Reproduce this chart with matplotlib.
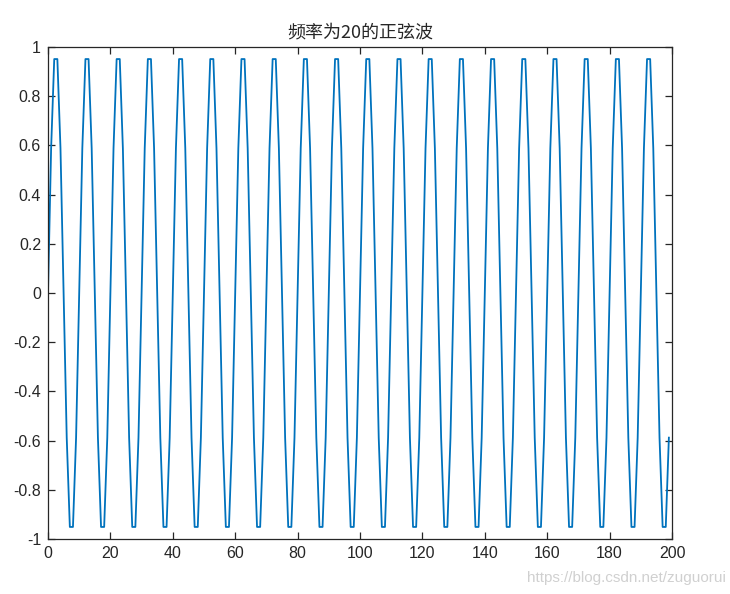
import matplotlib
matplotlib.use("Agg")
import matplotlib.pyplot as plt

sample_index = list(range(200))
amplitude = [
    0, 0.588, 0.951, 0.951, 0.588, 0, -0.588, -0.951, -0.951, -0.588,
    0, 0.588, 0.951, 0.951, 0.588, 0, -0.588, -0.951, -0.951, -0.588,
    0, 0.588, 0.951, 0.951, 0.588, 0, -0.588, -0.951, -0.951, -0.588,
    0, 0.588, 0.951, 0.951, 0.588, 0, -0.588, -0.951, -0.951, -0.588,
    0, 0.588, 0.951, 0.951, 0.588, 0, -0.588, -0.951, -0.951, -0.588,
    0, 0.588, 0.951, 0.951, 0.588, 0, -0.588, -0.951, -0.951, -0.588,
    0, 0.588, 0.951, 0.951, 0.588, 0, -0.588, -0.951, -0.951, -0.588,
    0, 0.588, 0.951, 0.951, 0.588, 0, -0.588, -0.951, -0.951, -0.588,
    0, 0.588, 0.951, 0.951, 0.588, 0, -0.588, -0.951, -0.951, -0.588,
    0, 0.588, 0.951, 0.951, 0.588, 0, -0.588, -0.951, -0.951, -0.588,
    0, 0.588, 0.951, 0.951, 0.588, 0, -0.588, -0.951, -0.951, -0.588,
    0, 0.588, 0.951, 0.951, 0.588, 0, -0.588, -0.951, -0.951, -0.588,
    0, 0.588, 0.951, 0.951, 0.588, 0, -0.588, -0.951, -0.951, -0.588,
    0, 0.588, 0.951, 0.951, 0.588, 0, -0.588, -0.951, -0.951, -0.588,
    0, 0.588, 0.951, 0.951, 0.588, 0, -0.588, -0.951, -0.951, -0.588,
    0, 0.588, 0.951, 0.951, 0.588, 0, -0.588, -0.951, -0.951, -0.588,
    0, 0.588, 0.951, 0.951, 0.588, 0, -0.588, -0.951, -0.951, -0.588,
    0, 0.588, 0.951, 0.951, 0.588, 0, -0.588, -0.951, -0.951, -0.588,
    0, 0.588, 0.951, 0.951, 0.588, 0, -0.588, -0.951, -0.951, -0.588,
    0, 0.588, 0.951, 0.951, 0.588, 0, -0.588, -0.951, -0.951, -0.588,
]
x_ticks = [0, 20, 40, 60, 80, 100, 120, 140, 160, 180, 200]
x_labels = ["0", "20", "40", "60", "80", "100", "120", "140", "160", "180", "200"]
y_ticks = [-1, -0.8, -0.6, -0.4, -0.2, 0, 0.2, 0.4, 0.6, 0.8, 1]
y_labels = ["-1", "-0.8", "-0.6", "-0.4", "-0.2", "0", "0.2", "0.4", "0.6", "0.8", "1"]
title_text = "频率为20的正弦波"
watermark = "https://blog.csdn.net/zuguorui"

plt.rcParams['font.family'] = ['Liberation Sans', 'Noto Sans CJK SC', 'DejaVu Sans']
dark = "#262626"

fig = plt.figure(figsize=(7.30, 5.94), dpi=100)
ax = fig.add_axes([48 / 730, 55 / 594, 624 / 730, 492 / 594])
ax.plot(sample_index, amplitude, color="#0072BD", linewidth=1.3)
ax.set_xlim(0, 200)
ax.set_ylim(-1, 1)
ax.set_xticks(x_ticks)
ax.set_xticklabels(x_labels)
ax.set_yticks(y_ticks)
ax.set_yticklabels(y_labels)
ax.tick_params(direction="in", top=True, right=True, length=5, width=0.9,
               color=dark, labelcolor=dark, labelsize=11.5, pad=5)
for s in ax.spines.values():
    s.set_color(dark)
    s.set_linewidth(0.9)
ax.set_title(title_text, fontsize=13, color=dark, pad=7,
             family=['Noto Sans CJK SC', 'DejaVu Sans'])
fig.text(0.995, 0.015, watermark, ha="right", va="bottom", fontsize=11,
         color="#d0d0d0")
fig.savefig("out.png", dpi=100)
